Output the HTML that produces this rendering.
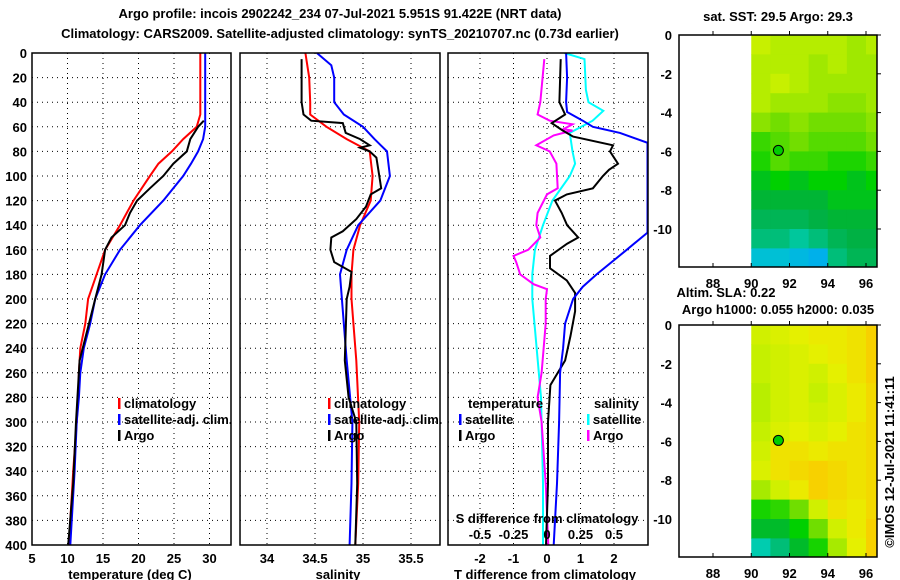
<!DOCTYPE html>
<html><head><meta charset="utf-8"><style>
body{margin:0;background:#fff}
svg{display:block;font-family:"Liberation Sans",sans-serif;font-weight:bold}
text{font-size:13px;fill:#000}
</style></head><body>
<svg id="c" width="900" height="580" viewBox="0 0 900 580" xmlns="http://www.w3.org/2000/svg">
<text x="340" y="18" text-anchor="middle">Argo profile: incois 2902242_234 07-Jul-2021 5.951S 91.422E (NRT data)</text>
<text x="340" y="38" text-anchor="middle">Climatology: CARS2009. Satellite-adjusted climatology: synTS_20210707.nc (0.73d earlier)</text>
<text x="778" y="21" text-anchor="middle">sat. SST: 29.5 Argo: 29.3</text>
<text x="726" y="297" text-anchor="middle">Altim. SLA: 0.22</text>
<text x="778" y="314" text-anchor="middle">Argo h1000: 0.055 h2000: 0.035</text>
<text transform="translate(894,462) rotate(-90)" text-anchor="middle">©IMOS 12-Jul-2021 11:41:11</text>
<g id="g"></g>
</svg>
<script>
// ---- profile data ----
const depths = [0,20,40,50,60,70,80,90,100,120,140,160,180,200,220,240,260,280,300,340,400];
const tempClim = [28.7,28.7,28.7,28.7,28.2,26.3,24.7,22.8,21.6,19.3,17.4,15.3,14.1,12.9,12.5,11.8,11.6,11.5,11.3,10.8,10.2];
const tempSat  = [29.4,29.4,29.4,29.4,29.4,29.1,28.4,27.4,26.3,23.5,20.2,17.4,15.3,13.9,13.2,12.3,11.8,11.6,11.3,11.0,10.4];
const argoDepths = [55,60,70,80,90,100,110,120,130,140,150,160,180,200,250,300,350,400];
const tempArgo = [29.2,28.4,27.3,26.8,24.9,23.5,21.6,19.8,18.8,18.1,16.2,15.3,14.8,13.9,11.7,11.2,10.8,10.1];

const salDepths = [0,10,20,40,50,60,70,80,100,120,140,160,180,200,250,300,350,400];
const salClim = [34.40,34.42,34.44,34.45,34.45,34.62,34.83,35.07,35.10,35.08,34.97,34.90,34.88,34.88,34.93,34.96,34.95,34.92];
const salSat  = [34.52,34.67,34.70,34.70,34.80,35.00,35.12,35.25,35.28,35.18,34.95,34.83,34.76,34.78,34.83,34.89,34.88,34.86];
const salArgoDepths = [5,40,50,55,57,65,70,75,77,80,85,100,110,115,125,135,145,150,160,170,178,190,200,250,280,300,350,400];
const salArgo = [34.36,34.36,34.38,34.46,34.79,34.82,34.97,35.07,34.97,35.07,35.14,35.17,35.19,35.08,35.03,34.93,34.79,34.67,34.66,34.70,34.88,34.86,34.83,34.81,34.85,34.93,34.94,34.92];

const dDepths = [0,20,40,48,55,60,65,73,146,160,180,190,200,220,240,260,300,350,400];
const dTSat = [0.57,0.6,0.57,0.6,1.07,1.37,2.18,3.0,3.0,2.38,1.48,1.07,0.78,0.54,0.48,0.39,0.36,0.3,0.2];
const dArgoDepths = [5,40,50,57,63,68,75,80,90,95,100,110,115,120,130,140,150,155,165,175,185,195,210,230,250,270,300,350,400];
const dTArgo = [0.41,0.37,0.54,0.14,0.47,0.78,1.97,1.88,2.12,1.85,1.67,1.37,0.59,0.24,0.44,0.6,0.93,0.6,0.09,0.09,0.59,0.84,0.84,0.7,0.54,0.1,0.03,0.03,-0.03];
const sDepthsArgo = [5,40,50,55,58,62,63,67,75,80,90,110,115,130,140,150,160,165,170,180,188,192,200,220,260,280,300,350,400];
const dSArgo = [-0.02,-0.05,-0.07,0.02,0.19,0.12,0.19,0.05,-0.08,0.02,0.07,0.08,0.0,-0.07,-0.08,-0.05,-0.14,-0.25,-0.23,-0.2,-0.1,0.0,-0.01,-0.01,-0.04,-0.07,-0.04,-0.01,0.01];
const sDepthsSat = [0,5,30,40,47,55,65,80,90,100,120,140,160,180,200,280,300,350,400];
const dSSat = [0.13,0.28,0.29,0.31,0.42,0.34,0.17,0.19,0.21,0.17,0.04,-0.03,-0.09,-0.11,-0.11,-0.045,-0.04,-0.03,-0.03];

const depthTicks = [0,20,40,60,80,100,120,140,160,180,200,220,240,260,280,300,320,340,360,380,400];
const tempTicks = [5,10,15,20,25,30];
const salTicks = [34,34.5,35,35.5];
const dTTicks = [-2,-1,0,1,2];
const dSTicks = [-0.5,-0.25,0,0.25,0.5];
const dSTickLabels = ["-0.5","-0.25","0","0.25","0.5"];

// ---- map data (rows lat 0..-12 by 1 deg, cols lon 90..97) ----
const mapLons = [90,91,92,93,94,95,96];
const mapLats = [0,-1,-2,-3,-4,-5,-6,-7,-8,-9,-10,-11];
const sst = [
[29.8,29.7,29.7,29.7,29.7,29.6,29.7],
[29.7,29.7,29.7,29.6,29.7,29.6,29.6],
[29.7,29.8,29.7,29.6,29.6,29.6,29.6],
[29.7,29.6,29.6,29.6,29.5,29.5,29.6],
[29.5,29.4,29.5,29.4,29.4,29.4,29.5],
[29.2,29.3,29.4,29.3,29.3,29.3,29.4],
[29.1,29.3,29.2,29.2,29.1,29.1,29.2],
[28.9,29.0,28.9,29.0,29.0,28.9,29.0],
[28.8,28.8,28.8,28.8,28.9,28.9,28.9],
[28.7,28.7,28.7,28.75,28.8,28.8,28.8],
[28.6,28.6,28.5,28.6,28.7,28.75,28.75],
[28.3,28.3,28.25,28.2,28.6,28.7,28.7]];
const sla = [
[.30,.31,.32,.33,.33,.34,.36],
[.29,.30,.31,.32,.33,.34,.36],
[.29,.30,.31,.30,.32,.34,.36],
[.28,.30,.31,.29,.31,.33,.35],
[.28,.30,.31,.30,.31,.33,.35],
[.29,.31,.32,.31,.32,.34,.35],
[.30,.34,.34,.33,.34,.34,.35],
[.31,.34,.35,.36,.35,.34,.35],
[.27,.30,.33,.36,.35,.34,.35],
[.20,.21,.24,.30,.34,.33,.35],
[.17,.17,.19,.24,.30,.33,.36],
[.12,.14,.17,.20,.27,.32,.36]];
const mapLonTicks = [88,90,92,94,96];
const mapLatTicks = [0,-2,-4,-6,-8,-10];
const argoLon = 91.42, argoLat = -5.95;

const NS="http://www.w3.org/2000/svg";
const G=document.getElementById('g');
function el(t,a,p){const e=document.createElementNS(NS,t);for(const k in a)e.setAttribute(k,a[k]);(p||G).appendChild(e);return e;}
function tx(x,y,s,anchor,p){const e=el('text',{x:x,y:y,'text-anchor':anchor||'middle'},p);e.textContent=s;return e;}

const yD=d=>53+d*1.23;
const p1x=v=>32+(v-5)*7.1;
const p2x=v=>267+(v-34)*96;
const p3x=v=>547+v*33.5;
const p3s=v=>547+v*134;
const panels=[{x0:32,x1:231,name:'temperature-panel'},{x0:240,x1:440,name:'salinity-panel'},{x0:448,x1:648,name:'difference-panel'}];
const defs=el('defs',{});
panels.forEach((p,i)=>{const cp=el('clipPath',{id:'cp'+i},defs);el('rect',{x:p.x0,y:53,width:p.x1-p.x0,height:492},cp);});

function grid(i,xs,fn){
  const p=panels[i];
  const g=el('g',{});
  
  
  depthTicks.forEach(d=>{if(d>0&&d<400)el('line',{x1:p.x0,x2:p.x1,y1:yD(d),y2:yD(d),stroke:'#000','stroke-dasharray':'1 4'},g);});
  xs.forEach(v=>{const x=fn(v);if(x>p.x0+2&&x<p.x1-2)el('line',{x1:x,x2:x,y1:53,y2:545,stroke:'#000','stroke-dasharray':'1 4'},g);});
}
grid(0,tempTicks,p1x);grid(1,salTicks,p2x);grid(2,dTTicks,p3x);

function line(i,ds,vs,fn,col,name){
  const pts=ds.map((d,k)=>fn(vs[k]).toFixed(1)+','+yD(d).toFixed(1)).join(' ');
  const e=el('polyline',{points:pts,fill:'none',stroke:col,'stroke-width':2,'clip-path':'url(#cp'+i+')'});
  
  
}
line(0,depths,tempClim,p1x,'#f00','temp-climatology-line');
line(0,depths,tempSat,p1x,'#00f','temp-satellite-line');
line(0,argoDepths,tempArgo,p1x,'#000','temp-argo-line');
line(1,salDepths,salClim,p2x,'#f00','sal-climatology-line');
line(1,salDepths,salSat,p2x,'#00f','sal-satellite-line');
line(1,salArgoDepths,salArgo,p2x,'#000','sal-argo-line');
line(2,sDepthsSat,dSSat,p3s,'#0ff','s-diff-satellite-line');
line(2,sDepthsArgo,dSArgo,p3s,'#f0f','s-diff-argo-line');
line(2,dArgoDepths,dTArgo,p3x,'#000','t-diff-argo-line');
line(2,dDepths,dTSat,p3x,'#00f','t-diff-satellite-line');

panels.forEach(p=>{
  const r=el('rect',{x:p.x0,y:53,width:p.x1-p.x0,height:492,fill:'none',stroke:'#000','stroke-width':1.5});
  
  
});
depthTicks.forEach(d=>{const t=tx(27,yD(d)+5,String(d),'end');});
tempTicks.forEach(v=>{const t=tx(p1x(v),563,String(v));});
salTicks.forEach(v=>{const t=tx(p2x(v),563,String(v));});
dTTicks.forEach(v=>{const t=tx(p3x(v),563,String(v));});
dSTicks.forEach((v,k)=>{const t=tx(p3s(v),539,dSTickLabels[k]);});
let t;
t=tx(130,579,'temperature (deg C)');
t=tx(338,579,'salinity');
t=tx(545,579,'T difference from climatology');
t=tx(547,523,'S difference from climatology');

function legend(x,y,col,label,name){
  const g=el('g',{});
  
  
  el('rect',{x:x,y:y-10,width:2.5,height:11,fill:col},g);
  tx(x+6,y,label,'start',g);
}
legend(118,408,'#f00','climatology','legend-temp-climatology');
legend(118,424,'#00f','satellite-adj. clim.','legend-temp-satellite');
legend(118,440,'#000','Argo','legend-temp-argo');
legend(328,408,'#f00','climatology','legend-sal-climatology');
legend(328,424,'#00f','satellite-adj. clim.','legend-sal-satellite');
legend(328,440,'#000','Argo','legend-sal-argo');
t=tx(468,408,'temperature','start');
t=tx(594,408,'salinity','start');
legend(459,424,'#00f','satellite','legend-tdiff-satellite');
legend(459,440,'#000','Argo','legend-tdiff-argo');
legend(587,424,'#0ff','satellite','legend-sdiff-satellite');
legend(587,440,'#f0f','Argo','legend-sdiff-argo');

// ---- maps ----
const stops=[[0,[0,40,255]],[0.2,[0,160,255]],[0.3,[0,208,192]],[0.42,[0,176,64]],[0.5,[0,208,0]],[0.65,[128,224,0]],[0.75,[192,240,0]],[0.85,[232,240,0]],[1,[255,192,0]]];
function cmap(t){t=Math.max(0,Math.min(1,t));for(let i=1;i<stops.length;i++){if(t<=stops[i][0]){const a=stops[i-1],b=stops[i];const f=(t-a[0])/(b[0]-a[0]);const c=a[1].map((v,k)=>Math.round(v+(b[1][k]-v)*f));return 'rgb('+c.join(',')+')';}}return 'rgb(255,192,0)';}
const mx=lon=>713+(lon-88)*19.125;
function map(top,vals,norm,name){
  const my=lat=>top-lat*19.4;
  const x0=679,x1=877,y1=top+232;
  const cid='mc'+name;
  const cp=el('clipPath',{id:cid},defs);el('rect',{x:x0,y:top,width:x1-x0,height:232},cp);
  const g=el('g',{'clip-path':'url(#'+cid+')'});
  
  
  mapLats.forEach((lat,r)=>mapLons.forEach((lon,c)=>{
    const v=vals[r][c];
    if(v===null)return;
    const cell=el('rect',{x:mx(lon),y:my(lat),width:19.5,height:19.8,fill:cmap(norm(v))},g);
    
    
  }));
  const fr=el('rect',{x:x0,y:top,width:x1-x0,height:232,fill:'none',stroke:'#000','stroke-width':1.5});
  
  
  mapLonTicks.forEach(l=>{const x=mx(l);el('line',{x1:x,x2:x,y1:top,y2:top-4,stroke:'#000'});el('line',{x1:x,x2:x,y1:y1,y2:y1-4,stroke:'#000'});
    const tl=tx(x,y1+21,String(l));});
  mapLatTicks.forEach(l=>{const y=my(l);el('line',{x1:x1,x2:x1+4,y1:y,y2:y,stroke:'#000'});
    const tl=tx(672,y+5,String(l),'end');});
  const c=el('circle',{cx:mx(argoLon),cy:my(argoLat),r:5,fill:'#0c0',stroke:'#000','stroke-width':1});
  
  
}
map(35,sst,v=>(v-27.5)/3,'sst-map');
map(325,sla,v=>v/0.38,'sla-map');
</script>
</body></html>
